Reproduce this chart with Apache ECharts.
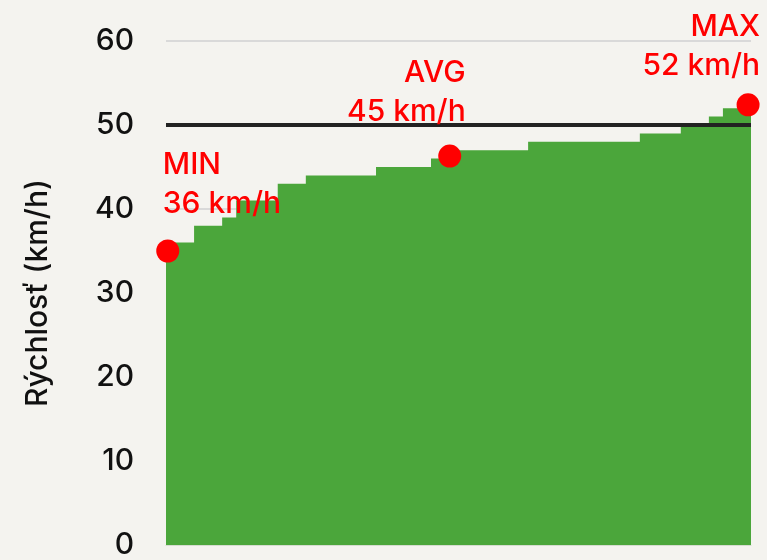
<!DOCTYPE html>
<html>
<head>
<meta charset="utf-8">
<script src="https://cdn.jsdelivr.net/npm/echarts@6/dist/echarts.min.js"></script>
<style>
html,body{margin:0;padding:0;background:#f4f3ef;}
#chart{width:767px;height:560px;}
</style>
</head>
<body>
<div id="chart"></div>
<script>
// Step starts (share of distance, %) and speed levels (km/h)
var stepStarts = [0, 4.8, 9.6, 12.0, 19.1, 23.9, 35.9, 45.3, 48.5, 61.9, 81.0, 88.0, 92.8, 95.2, 100];
var speedLevels = [36, 38, 39, 41, 43, 44, 45, 46, 47, 48, 49, 50, 51, 52, 52];
// Marked points
var markNames = ['MIN', 'AVG', 'MAX'];
var markLabels = ['36 km/h', '45 km/h', '52 km/h'];
var markX = [0.3, 48.5, 99.5];
var markY = [35, 46.3, 52.4];
var refLine = 50;
var yTicks = [0, 10, 20, 30, 40, 50, 60];

var FONT = 'Inter';
var stepData = stepStarts.map(function (x, i) { return [x, speedLevels[i]]; });
var labelCfg = [
  { align: 'left', offset: [-5, -11] },
  { align: 'right', offset: [16, -8] },
  { align: 'right', offset: [12, -3] }
];
var pointData = markX.map(function (x, i) {
  return {
    value: [x, markY[i]],
    label: {
      show: true,
      position: 'top',
      align: labelCfg[i].align,
      offset: labelCfg[i].offset,
      formatter: markNames[i] + '\n' + markLabels[i],
      color: '#ff0000',
      fontFamily: FONT,
      fontWeight: 500,
      fontSize: 30,
      lineHeight: 39
    }
  };
});

var chart = echarts.init(document.getElementById('chart'));
chart.setOption({
  backgroundColor: '#f4f3ef',
  animation: false,
  grid: { left: 166, right: 16, top: 41, bottom: 12 },
  xAxis: {
    type: 'value', min: 0, max: 100,
    axisLabel: { show: false }, axisTick: { show: false },
    axisLine: { show: true, lineStyle: { color: '#d6dcd0', width: 1 } },
    splitLine: { show: false }
  },
  yAxis: {
    type: 'value', min: yTicks[0], max: yTicks[yTicks.length - 1], interval: 10,
    name: 'Rýchlosť (km/h)', nameLocation: 'middle', nameRotate: 90, nameGap: 113,
    nameTextStyle: { fontFamily: FONT, fontWeight: 500, fontSize: 30, color: '#111' },
    axisLine: { show: false }, axisTick: { show: false },
    axisLabel: { margin: 32, fontFamily: FONT, fontWeight: 500, fontSize: 30, color: '#111' },
    splitLine: { show: true, lineStyle: { color: '#d9d9d9', width: 2 } }
  },
  series: [
    {
      type: 'line', step: 'end', data: stepData, showSymbol: false,
      lineStyle: { width: 0 },
      areaStyle: { color: '#4ba63b', opacity: 1 },
      markLine: {
        silent: true, symbol: 'none',
        label: { show: false },
        lineStyle: { color: '#222222', width: 4, type: 'solid', opacity: 1 },
        data: [{ yAxis: refLine }]
      },
      z: 2
    },
    {
      type: 'scatter', data: pointData, symbol: 'circle', symbolSize: 23,
      itemStyle: { color: '#ff0000', opacity: 1 }, clip: false, z: 5
    }
  ]
});
</script>
</body>
</html>
